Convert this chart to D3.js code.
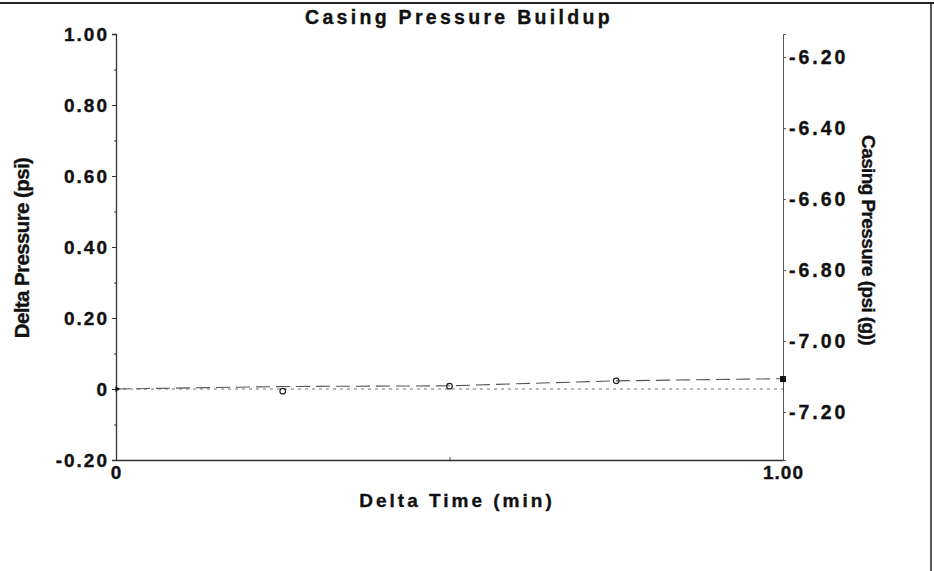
<!DOCTYPE html>
<html><head><meta charset="utf-8">
<script src="https://cdn.jsdelivr.net/npm/d3@7"></script>
<style>
body{margin:0;background:#fff;}
text{font-family:"Liberation Sans",Arial,sans-serif;font-weight:bold;fill:#111;stroke:#111;stroke-width:0.35px;}
</style></head>
<body><svg id="c" width="934" height="571"></svg>
<script>
// Data
const times = [0, 0.25, 0.5, 0.75, 1.0];               // Delta Time (min)
const deltaPressure = [0, -0.006, 0.008, 0.023, 0.028]; // psi (markers)
const casingPressure = [-7.135, -7.128, -7.126, -7.112, -7.106]; // psi(g) dashed line
const zeroLine = [0, 0];
const leftTicks = [-0.2, 0, 0.2, 0.4, 0.6, 0.8, 1.0];
const leftTickLabels = ["-0.20", "0", "0.20", "0.40", "0.60", "0.80", "1.00"];
const rightTicks = [-7.2, -7.0, -6.8, -6.6, -6.4, -6.2];
const rightTickLabels = ["-7.20", "-7.00", "-6.80", "-6.60", "-6.40", "-6.20"];
const xTickLabels = ["0", "1.00"];

const svg = d3.select("#c");
const L = 116, R = 783, T = 34, B = 460;
const x = d3.scaleLinear().domain([0, 1]).range([L, R]);
const y = d3.scaleLinear().domain([-0.2, 1.0]).range([B, T]);
const offset = -7.135;
const y2 = d3.scaleLinear().domain([-0.2 + offset, 1.0 + offset]).range([B, T]);

// page frame (top and right edges)
svg.append("line").attr("x1",0).attr("x2",934).attr("y1",3).attr("y2",3).attr("stroke","#222").attr("stroke-width",2);
svg.append("line").attr("x1",931).attr("x2",931).attr("y1",3).attr("y2",571).attr("stroke","#222").attr("stroke-width",1.5);

// title
svg.append("text").attr("x",459).attr("y",24).attr("text-anchor","middle")
  .style("font-size","19.5px").style("letter-spacing","3.3px").text("Casing Pressure Buildup");

// left axis
const leftAxis = d3.axisLeft(y).tickValues(leftTicks).tickSize(4).tickPadding(3)
  .tickFormat((d,i)=>leftTickLabels[i]);
const gl = svg.append("g").attr("transform",`translate(${L},0)`).call(leftAxis);
gl.select(".domain").attr("stroke","#333").attr("stroke-width",1.3);
gl.selectAll(".tick line").attr("stroke","#333");
gl.selectAll(".tick text").style("font-size","19px").style("letter-spacing","2px").style("font-family","Liberation Sans, Arial").attr("fill","#111");
const leftMinor = d3.axisLeft(y).tickValues(d3.range(-0.1, 1.0, 0.2)).tickSize(2).tickFormat("");
svg.append("g").attr("transform",`translate(${L},0)`).call(leftMinor)
  .call(g=>{g.select(".domain").remove();g.selectAll("line").attr("stroke","#333");});

// right axis
const rightAxis = d3.axisRight(y2).tickValues(rightTicks).tickSize(3).tickPadding(3)
  .tickFormat((d,i)=>rightTickLabels[i]);
const gr = svg.append("g").attr("transform",`translate(${R},0)`).call(rightAxis);
gr.select(".domain").attr("stroke","#555").attr("stroke-width",1);
gr.selectAll(".tick line").attr("stroke","#555");
gr.selectAll(".tick text").style("font-size","19.5px").style("letter-spacing","3px").style("font-family","Liberation Sans, Arial").attr("fill","#111");

// bottom axis
const bottomAxis = d3.axisBottom(x).tickValues([0, 1]).tickSize(0).tickPadding(6)
  .tickFormat((d,i)=>xTickLabels[i]);
const gb = svg.append("g").attr("transform",`translate(0,${B})`).call(bottomAxis);
gb.select(".domain").attr("stroke","#333").attr("stroke-width",1.3);
gb.selectAll(".tick text").style("font-size","19px").style("letter-spacing","1px").style("font-family","Liberation Sans, Arial").attr("fill","#111");
svg.append("g").attr("transform",`translate(0,${B})`).call(d3.axisBottom(x).tickValues([0.5]).tickSize(-3).tickFormat(""))
  .call(g=>{g.select(".domain").remove();g.selectAll("line").attr("stroke","#555");});

// axis titles
svg.append("text").attr("transform",`translate(29,${(T+B)/2+1}) rotate(-90)`).attr("text-anchor","middle")
  .style("font-size","20.5px").style("font-family","Liberation Sans Narrow, Arial Narrow, Liberation Sans").style("letter-spacing","-0.6px")
  .text("Delta Pressure (psi)");
svg.append("text").attr("transform",`translate(862,${(T+B)/2-7}) rotate(90)`).attr("text-anchor","middle")
  .style("font-size","19px").style("font-family","Liberation Sans Narrow, Arial Narrow, Liberation Sans").style("letter-spacing","-0.6px")
  .text("Casing Pressure (psi (g))");
svg.append("text").attr("x",457).attr("y",507).attr("text-anchor","middle")
  .style("font-size","19px").style("letter-spacing","3px").text("Delta Time (min)");

// zero dotted line
svg.append("path").datum(zeroLine)
  .attr("d", d3.line().x((d,i)=>x(i)).y(d=>y(d)))
  .attr("fill","none").attr("stroke","#7a6a86").attr("stroke-width",1).attr("stroke-dasharray","3,4");

// casing pressure dashed line (right axis)
const cp = times.map((t,i)=>({t, v:casingPressure[i]}));
svg.append("path").datum(cp)
  .attr("d", d3.line().x(d=>x(d.t)).y(d=>y2(d.v)))
  .attr("fill","none").attr("stroke","#555").attr("stroke-width",1.1).attr("stroke-dasharray","14,6");

// delta pressure markers
const dp = times.map((t,i)=>({t, v:deltaPressure[i], i}));
svg.selectAll("circle.dp").data(dp.filter(d=>d.i>0 && d.i<times.length-1)).join("circle")
  .attr("class","dp").attr("cx",d=>x(d.t)).attr("cy",d=>y(d.v)).attr("r",2.8)
  .attr("fill","none").attr("stroke","#222").attr("stroke-width",1.2);
const last = dp[dp.length-1];
svg.append("rect").attr("x",x(last.t)-3).attr("y",y(last.v)-3).attr("width",6).attr("height",6).attr("fill","#111");
const first = dp[0];
svg.append("path").attr("d", d3.symbol(d3.symbolTriangle, 14)()).attr("transform",`translate(${x(first.t)+1},${y(first.v)}) rotate(90)`).attr("fill","#111");
</script></body></html>
